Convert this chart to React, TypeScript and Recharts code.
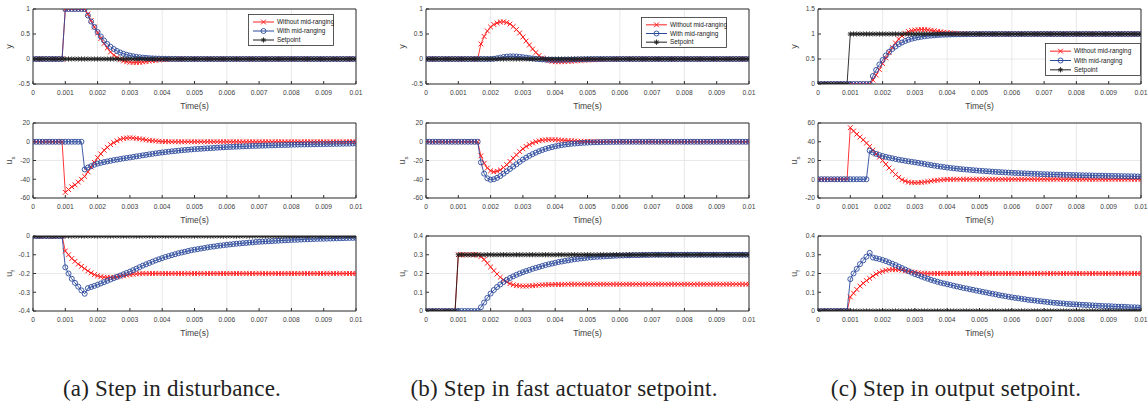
import React from "react";
import { LineChart, Line, XAxis, YAxis, CartesianGrid, Legend } from "recharts";

// ---- sampling grid (one marker every 0.1 ms) ----
const SAMPLE_STEP = 0.0001;
const time = Array.from({ length: 101 }, (_, i) => Number((i * SAMPLE_STEP).toFixed(4)));
const xTicks = [0, 0.001, 0.002, 0.003, 0.004, 0.005, 0.006, 0.007, 0.008, 0.009, 0.01];

const legendLabels = ["Without mid-ranging", "With mid-ranging", "Setpoint"];
const captions = ["(a) Step in disturbance.", "(b) Step in fast actuator setpoint.", "(c) Step in output setpoint."];

// ---- setpoints ----
const ZERO_SETPOINT = [
  0, 0, 0, 0, 0, 0, 0, 0, 0, 0,
  0, 0, 0, 0, 0, 0, 0, 0, 0, 0,
  0, 0, 0, 0, 0, 0, 0, 0, 0, 0,
  0, 0, 0, 0, 0, 0, 0, 0, 0, 0,
  0, 0, 0, 0, 0, 0, 0, 0, 0, 0,
  0, 0, 0, 0, 0, 0, 0, 0, 0, 0,
  0, 0, 0, 0, 0, 0, 0, 0, 0, 0,
  0, 0, 0, 0, 0, 0, 0, 0, 0, 0,
  0, 0, 0, 0, 0, 0, 0, 0, 0, 0,
  0, 0, 0, 0, 0, 0, 0, 0, 0, 0,
  0,
];
const B_UF_SET = [
  0, 0, 0, 0, 0, 0, 0, 0, 0, 0,
  0.3, 0.3, 0.3, 0.3, 0.3, 0.3, 0.3, 0.3, 0.3, 0.3,
  0.3, 0.3, 0.3, 0.3, 0.3, 0.3, 0.3, 0.3, 0.3, 0.3,
  0.3, 0.3, 0.3, 0.3, 0.3, 0.3, 0.3, 0.3, 0.3, 0.3,
  0.3, 0.3, 0.3, 0.3, 0.3, 0.3, 0.3, 0.3, 0.3, 0.3,
  0.3, 0.3, 0.3, 0.3, 0.3, 0.3, 0.3, 0.3, 0.3, 0.3,
  0.3, 0.3, 0.3, 0.3, 0.3, 0.3, 0.3, 0.3, 0.3, 0.3,
  0.3, 0.3, 0.3, 0.3, 0.3, 0.3, 0.3, 0.3, 0.3, 0.3,
  0.3, 0.3, 0.3, 0.3, 0.3, 0.3, 0.3, 0.3, 0.3, 0.3,
  0.3, 0.3, 0.3, 0.3, 0.3, 0.3, 0.3, 0.3, 0.3, 0.3,
  0.3,
];
const C_Y_SET = [
  0, 0, 0, 0, 0, 0, 0, 0, 0, 0,
  1, 1, 1, 1, 1, 1, 1, 1, 1, 1,
  1, 1, 1, 1, 1, 1, 1, 1, 1, 1,
  1, 1, 1, 1, 1, 1, 1, 1, 1, 1,
  1, 1, 1, 1, 1, 1, 1, 1, 1, 1,
  1, 1, 1, 1, 1, 1, 1, 1, 1, 1,
  1, 1, 1, 1, 1, 1, 1, 1, 1, 1,
  1, 1, 1, 1, 1, 1, 1, 1, 1, 1,
  1, 1, 1, 1, 1, 1, 1, 1, 1, 1,
  1, 1, 1, 1, 1, 1, 1, 1, 1, 1,
  1,
];

// ---- (a) step in disturbance ----
const A_Y_RED = [
  0, 0, 0, 0, 0, 0, 0, 0, 0, 0,
  1, 1, 1, 1, 1, 1, 1, 0.9, 0.77, 0.64,
  0.52, 0.41, 0.31, 0.22, 0.14, 0.08, 0.03, -0.01, -0.04, -0.055,
  -0.065, -0.07, -0.07, -0.067, -0.06, -0.052, -0.043, -0.034, -0.026, -0.019,
  -0.013, -0.008, -0.005, -0.003, -0.001, 0, 0, 0, 0, 0,
  0, 0, 0, 0, 0, 0, 0, 0, 0, 0,
  0, 0, 0, 0, 0, 0, 0, 0, 0, 0,
  0, 0, 0, 0, 0, 0, 0, 0, 0, 0,
  0, 0, 0, 0, 0, 0, 0, 0, 0, 0,
  0, 0, 0, 0, 0, 0, 0, 0, 0, 0,
  0,
];
const A_Y_BLUE = [
  0, 0, 0, 0, 0, 0, 0, 0, 0, 0,
  1, 1, 1, 1, 1, 1, 1, 0.87, 0.75, 0.64,
  0.54, 0.45, 0.37, 0.3, 0.245, 0.2, 0.16, 0.13, 0.105, 0.085,
  0.068, 0.055, 0.044, 0.035, 0.028, 0.022, 0.017, 0.013, 0.01, 0.008,
  0.006, 0.004, 0.003, 0.002, 0.001, 0, 0, 0, 0, 0,
  0, 0, 0, 0, 0, 0, 0, 0, 0, 0,
  0, 0, 0, 0, 0, 0, 0, 0, 0, 0,
  0, 0, 0, 0, 0, 0, 0, 0, 0, 0,
  0, 0, 0, 0, 0, 0, 0, 0, 0, 0,
  0, 0, 0, 0, 0, 0, 0, 0, 0, 0,
  0,
];
const A_US_RED = [
  0, 0, 0, 0, 0, 0, 0, 0, 0, 0,
  -54, -51, -48, -46, -43, -40, -37, -32, -27, -22,
  -17, -13, -9, -6, -3, -1, 1, 2.5, 3.5, 4,
  4.2, 4, 3.6, 3.1, 2.5, 2, 1.5, 1.1, 0.8, 0.5,
  0.3, 0.15, 0.05, 0, 0, 0, 0, 0, 0, 0,
  0, 0, 0, 0, 0, 0, 0, 0, 0, 0,
  0, 0, 0, 0, 0, 0, 0, 0, 0, 0,
  0, 0, 0, 0, 0, 0, 0, 0, 0, 0,
  0, 0, 0, 0, 0, 0, 0, 0, 0, 0,
  0, 0, 0, 0, 0, 0, 0, 0, 0, 0,
  0,
];
const A_US_BLUE = [
  0, 0, 0, 0, 0, 0, 0, 0, 0, 0,
  0, 0, 0, 0, 0, 0, -29.5, -27.5, -26, -24.5,
  -23.3, -22.5, -21.7, -21, -20.3, -19.6, -19, -18.4, -17.8, -17.3,
  -16.8, -16.2, -15.6, -15.1, -14.5, -14, -13.4, -12.9, -12.4, -11.9,
  -11.4, -11, -10.6, -10.2, -9.9, -9.5, -9.1, -8.8, -8.5, -8.2,
  -7.9, -7.7, -7.5, -7.2, -7, -6.8, -6.6, -6.3, -6.1, -5.9,
  -5.7, -5.55, -5.4, -5.25, -5.1, -4.95, -4.8, -4.65, -4.5, -4.4,
  -4.3, -4.2, -4.1, -3.95, -3.85, -3.75, -3.65, -3.55, -3.45, -3.35,
  -3.2, -3.1, -3, -2.95, -2.9, -2.8, -2.75, -2.7, -2.6, -2.55,
  -2.5, -2.45, -2.4, -2.3, -2.25, -2.2, -2.1, -2.05, -2, -1.9,
  -1.8,
];
const A_UF_RED = [
  0, 0, 0, 0, 0, 0, 0, 0, 0, 0,
  -0.08, -0.1, -0.12, -0.135, -0.15, -0.162, -0.174, -0.186, -0.197, -0.206,
  -0.212, -0.217, -0.22, -0.221, -0.221, -0.22, -0.218, -0.215, -0.212, -0.209,
  -0.206, -0.204, -0.202, -0.201, -0.2, -0.2, -0.2, -0.2, -0.2, -0.2,
  -0.2, -0.2, -0.2, -0.2, -0.2, -0.2, -0.2, -0.2, -0.2, -0.2,
  -0.2, -0.2, -0.2, -0.2, -0.2, -0.2, -0.2, -0.2, -0.2, -0.2,
  -0.2, -0.2, -0.2, -0.2, -0.2, -0.2, -0.2, -0.2, -0.2, -0.2,
  -0.2, -0.2, -0.2, -0.2, -0.2, -0.2, -0.2, -0.2, -0.2, -0.2,
  -0.2, -0.2, -0.2, -0.2, -0.2, -0.2, -0.2, -0.2, -0.2, -0.2,
  -0.2, -0.2, -0.2, -0.2, -0.2, -0.2, -0.2, -0.2, -0.2, -0.2,
  -0.2,
];
const A_UF_BLUE = [
  0, 0, 0, 0, 0, 0, 0, 0, 0, 0,
  -0.167, -0.2, -0.228, -0.25, -0.27, -0.29, -0.308, -0.278, -0.272, -0.266,
  -0.26, -0.253, -0.246, -0.239, -0.232, -0.225, -0.218, -0.211, -0.204, -0.197,
  -0.19, -0.182, -0.174, -0.166, -0.158, -0.151, -0.144, -0.137, -0.13, -0.124,
  -0.118, -0.112, -0.107, -0.102, -0.097, -0.092, -0.088, -0.084, -0.08, -0.076,
  -0.073, -0.07, -0.067, -0.064, -0.061, -0.058, -0.056, -0.053, -0.051, -0.049,
  -0.047, -0.045, -0.043, -0.041, -0.04, -0.038, -0.037, -0.035, -0.034, -0.032,
  -0.031, -0.03, -0.029, -0.028, -0.027, -0.026, -0.025, -0.024, -0.023, -0.022,
  -0.021, -0.0205, -0.02, -0.019, -0.018, -0.0175, -0.017, -0.016, -0.0155, -0.015,
  -0.0145, -0.014, -0.0135, -0.013, -0.0125, -0.012, -0.0115, -0.011, -0.0105, -0.01,
  -0.01,
];

// ---- (b) step in fast actuator setpoint ----
const B_Y_RED = [
  0, 0, 0, 0, 0, 0, 0, 0, 0, 0,
  0, 0, 0, 0, 0, 0, 0, 0.3, 0.45, 0.56,
  0.64, 0.69, 0.72, 0.74, 0.745, 0.73, 0.7, 0.65, 0.59, 0.52,
  0.44, 0.36, 0.28, 0.2, 0.13, 0.07, 0.02, -0.015, -0.035, -0.048,
  -0.055, -0.057, -0.056, -0.053, -0.049, -0.044, -0.039, -0.034, -0.029, -0.024,
  -0.02, -0.016, -0.013, -0.01, -0.008, -0.006, -0.004, -0.003, -0.002, -0.001,
  0, 0, 0, 0, 0, 0, 0, 0, 0, 0,
  0, 0, 0, 0, 0, 0, 0, 0, 0, 0,
  0, 0, 0, 0, 0, 0, 0, 0, 0, 0,
  0, 0, 0, 0, 0, 0, 0, 0, 0, 0,
  0,
];
const B_Y_BLUE = [
  0, 0, 0, 0, 0, 0, 0, 0, 0, 0,
  0, 0, 0, 0, 0, 0, 0, 0, 0, 0,
  0, 0.005, 0.015, 0.028, 0.04, 0.048, 0.052, 0.053, 0.05, 0.044,
  0.036, 0.027, 0.018, 0.01, 0.003, -0.003, -0.008, -0.012, -0.015, -0.017,
  -0.018, -0.018, -0.017, -0.015, -0.013, -0.011, -0.009, -0.007, -0.005, -0.004,
  -0.003, -0.002, -0.001, 0, 0, 0, 0, 0, 0, 0,
  0, 0, 0, 0, 0, 0, 0, 0, 0, 0,
  0, 0, 0, 0, 0, 0, 0, 0, 0, 0,
  0, 0, 0, 0, 0, 0, 0, 0, 0, 0,
  0, 0, 0, 0, 0, 0, 0, 0, 0, 0,
  0,
];
const B_US_RED = [
  0, 0, 0, 0, 0, 0, 0, 0, 0, 0,
  0, 0, 0, 0, 0, 0, 0, -15, -23, -28,
  -31, -32, -31.5, -30, -27.5, -24.5, -21, -17.5, -14, -10.5,
  -7.5, -5, -3, -1.3, 0, 1, 1.6, 2, 2.2, 2.2,
  2.1, 1.9, 1.7, 1.4, 1.2, 1, 0.8, 0.6, 0.45, 0.35,
  0.25, 0.15, 0.1, 0.05, 0, 0, 0, 0, 0, 0,
  0, 0, 0, 0, 0, 0, 0, 0, 0, 0,
  0, 0, 0, 0, 0, 0, 0, 0, 0, 0,
  0, 0, 0, 0, 0, 0, 0, 0, 0, 0,
  0, 0, 0, 0, 0, 0, 0, 0, 0, 0,
  0,
];
const B_US_BLUE = [
  0, 0, 0, 0, 0, 0, 0, 0, 0, 0,
  0, 0, 0, 0, 0, 0, 0, -22, -34, -39,
  -40.5, -40, -38.5, -36.5, -34, -31.5, -29, -26.5, -24, -21.5,
  -19, -17, -15, -13.2, -11.6, -10.1, -8.8, -7.6, -6.6, -5.7,
  -4.9, -4.2, -3.6, -3.1, -2.6, -2.2, -1.9, -1.6, -1.3, -1.1,
  -0.9, -0.75, -0.6, -0.5, -0.4, -0.32, -0.25, -0.2, -0.15, -0.1,
  -0.08, -0.05, -0.03, -0.02, -0.01, 0, 0, 0, 0, 0,
  0, 0, 0, 0, 0, 0, 0, 0, 0, 0,
  0, 0, 0, 0, 0, 0, 0, 0, 0, 0,
  0, 0, 0, 0, 0, 0, 0, 0, 0, 0,
  0,
];
const B_UF_RED = [
  0, 0, 0, 0, 0, 0, 0, 0, 0, 0,
  0.3, 0.3, 0.3, 0.3, 0.3, 0.3, 0.3, 0.29, 0.275, 0.255,
  0.235, 0.215, 0.197, 0.18, 0.166, 0.155, 0.146, 0.14, 0.136, 0.134,
  0.133, 0.133, 0.134, 0.135, 0.137, 0.138, 0.139, 0.14, 0.141, 0.141,
  0.142, 0.142, 0.142, 0.143, 0.143, 0.143, 0.143, 0.143, 0.143, 0.143,
  0.143, 0.143, 0.143, 0.143, 0.143, 0.143, 0.143, 0.143, 0.143, 0.143,
  0.143, 0.143, 0.143, 0.143, 0.143, 0.143, 0.143, 0.143, 0.143, 0.143,
  0.143, 0.143, 0.143, 0.143, 0.143, 0.143, 0.143, 0.143, 0.143, 0.143,
  0.143, 0.143, 0.143, 0.143, 0.143, 0.143, 0.143, 0.143, 0.143, 0.143,
  0.143, 0.143, 0.143, 0.143, 0.143, 0.143, 0.143, 0.143, 0.143, 0.143,
  0.143,
];
const B_UF_BLUE = [
  0, 0, 0, 0, 0, 0, 0, 0, 0, 0,
  0, 0, 0, 0, 0, 0, 0, 0.02, 0.045, 0.07,
  0.093, 0.112, 0.128, 0.142, 0.155, 0.166, 0.176, 0.185, 0.193, 0.2,
  0.207, 0.213, 0.219, 0.225, 0.23, 0.235, 0.24, 0.245, 0.249, 0.253,
  0.257, 0.261, 0.264, 0.267, 0.27, 0.273, 0.276, 0.278, 0.28, 0.282,
  0.284, 0.286, 0.288, 0.289, 0.29, 0.291, 0.292, 0.293, 0.294, 0.295,
  0.296, 0.296, 0.297, 0.297, 0.298, 0.298, 0.298, 0.299, 0.299, 0.299,
  0.3, 0.3, 0.3, 0.3, 0.3, 0.3, 0.3, 0.3, 0.3, 0.3,
  0.3, 0.3, 0.3, 0.3, 0.3, 0.3, 0.3, 0.3, 0.3, 0.3,
  0.3, 0.3, 0.3, 0.3, 0.3, 0.3, 0.3, 0.3, 0.3, 0.3,
  0.3,
];

// ---- (c) step in output setpoint ----
const C_Y_RED = [
  0, 0, 0, 0, 0, 0, 0, 0, 0, 0,
  0, 0, 0, 0, 0, 0, 0, 0.08, 0.18, 0.29,
  0.41, 0.52, 0.63, 0.73, 0.82, 0.9, 0.96, 1.01, 1.05, 1.07,
  1.08, 1.085, 1.09, 1.088, 1.083, 1.075, 1.065, 1.055, 1.045, 1.036,
  1.028, 1.021, 1.015, 1.01, 1.006, 1.003, 1.001, 1, 1, 1,
  1, 1, 1, 1, 1, 1, 1, 1, 1, 1,
  1, 1, 1, 1, 1, 1, 1, 1, 1, 1,
  1, 1, 1, 1, 1, 1, 1, 1, 1, 1,
  1, 1, 1, 1, 1, 1, 1, 1, 1, 1,
  1, 1, 1, 1, 1, 1, 1, 1, 1, 1,
  1,
];
const C_Y_BLUE = [
  0, 0, 0, 0, 0, 0, 0, 0, 0, 0,
  0, 0, 0, 0, 0, 0, 0, 0.16, 0.28, 0.39,
  0.48, 0.57, 0.64, 0.7, 0.75, 0.795, 0.83, 0.86, 0.885, 0.905,
  0.92, 0.933, 0.944, 0.953, 0.961, 0.968, 0.973, 0.978, 0.982, 0.985,
  0.988, 0.99, 0.992, 0.994, 0.995, 0.996, 0.997, 0.998, 0.998, 0.999,
  1, 1, 1, 1, 1, 1, 1, 1, 1, 1,
  1, 1, 1, 1, 1, 1, 1, 1, 1, 1,
  1, 1, 1, 1, 1, 1, 1, 1, 1, 1,
  1, 1, 1, 1, 1, 1, 1, 1, 1, 1,
  1, 1, 1, 1, 1, 1, 1, 1, 1, 1,
  1,
];
const C_US_RED = [
  0, 0, 0, 0, 0, 0, 0, 0, 0, 0,
  55, 51.5, 48, 45, 42, 38.5, 35, 31, 27, 23.5,
  20, 16, 12, 8.5, 5, 2, -0.5, -2, -3, -3.5,
  -3.7, -3.6, -3.3, -2.9, -2.4, -1.9, -1.4, -1, -0.7, -0.4,
  -0.2, -0.1, 0, 0, 0, 0, 0, 0, 0, 0,
  0, 0, 0, 0, 0, 0, 0, 0, 0, 0,
  0, 0, 0, 0, 0, 0, 0, 0, 0, 0,
  0, 0, 0, 0, 0, 0, 0, 0, 0, 0,
  0, 0, 0, 0, 0, 0, 0, 0, 0, 0,
  0, 0, 0, 0, 0, 0, 0, 0, 0, 0,
  0,
];
const C_US_BLUE = [
  0, 0, 0, 0, 0, 0, 0, 0, 0, 0,
  0, 0, 0, 0, 0, 0, 30.5, 28.5, 27, 25.8,
  24.8, 23.9, 23.1, 22.3, 21.6, 20.9, 20.3, 19.7, 19.1, 18.6,
  18.1, 17.5, 16.9, 16.3, 15.7, 15.1, 14.5, 14, 13.5, 13,
  12.5, 12.1, 11.7, 11.3, 10.9, 10.6, 10.3, 10, 9.7, 9.4,
  9.1, 8.9, 8.6, 8.4, 8.1, 7.9, 7.7, 7.5, 7.3, 7.1,
  6.9, 6.7, 6.55, 6.4, 6.25, 6.1, 5.95, 5.8, 5.65, 5.5,
  5.4, 5.3, 5.2, 5.1, 5, 4.9, 4.8, 4.7, 4.6, 4.5,
  4.4, 4.3, 4.2, 4.15, 4.1, 4, 3.9, 3.85, 3.8, 3.7,
  3.6, 3.55, 3.5, 3.4, 3.35, 3.3, 3.2, 3.15, 3.1, 3,
  2.9,
];
const C_UF_RED = [
  0, 0, 0, 0, 0, 0, 0, 0, 0, 0,
  0.075, 0.095, 0.115, 0.133, 0.148, 0.162, 0.174, 0.186, 0.197, 0.206,
  0.212, 0.217, 0.22, 0.221, 0.221, 0.22, 0.218, 0.215, 0.212, 0.209,
  0.206, 0.204, 0.202, 0.201, 0.2, 0.2, 0.2, 0.2, 0.2, 0.2,
  0.2, 0.2, 0.2, 0.2, 0.2, 0.2, 0.2, 0.2, 0.2, 0.2,
  0.2, 0.2, 0.2, 0.2, 0.2, 0.2, 0.2, 0.2, 0.2, 0.2,
  0.2, 0.2, 0.2, 0.2, 0.2, 0.2, 0.2, 0.2, 0.2, 0.2,
  0.2, 0.2, 0.2, 0.2, 0.2, 0.2, 0.2, 0.2, 0.2, 0.2,
  0.2, 0.2, 0.2, 0.2, 0.2, 0.2, 0.2, 0.2, 0.2, 0.2,
  0.2, 0.2, 0.2, 0.2, 0.2, 0.2, 0.2, 0.2, 0.2, 0.2,
  0.2,
];
const C_UF_BLUE = [
  0, 0, 0, 0, 0, 0, 0, 0, 0, 0,
  0.17, 0.2, 0.225, 0.25, 0.27, 0.29, 0.31, 0.285, 0.281, 0.277,
  0.272, 0.266, 0.259, 0.252, 0.245, 0.237, 0.229, 0.221, 0.213, 0.205,
  0.197, 0.191, 0.184, 0.178, 0.172, 0.166, 0.161, 0.156, 0.151, 0.147,
  0.143, 0.139, 0.135, 0.131, 0.127, 0.123, 0.12, 0.116, 0.113, 0.109,
  0.106, 0.102, 0.099, 0.095, 0.092, 0.089, 0.085, 0.082, 0.079, 0.076,
  0.073, 0.07, 0.068, 0.065, 0.063, 0.06, 0.058, 0.056, 0.054, 0.052,
  0.05, 0.048, 0.046, 0.044, 0.043, 0.041, 0.04, 0.038, 0.037, 0.036,
  0.035, 0.034, 0.033, 0.032, 0.031, 0.03, 0.029, 0.028, 0.027, 0.026,
  0.026, 0.025, 0.024, 0.023, 0.023, 0.022, 0.021, 0.02, 0.02, 0.019,
  0.018,
];

// ---- styling ----
const RED = "#ff1f1f";
const BLUE = "#2b4a9c";
const BLACK = "#1e1e1e";
const AXIS = "#303030";
const GRID = "#e3e3e3";
const SANS = "'Liberation Sans', Arial, sans-serif";
const SERIF = "'Times New Roman', 'Liberation Serif', Times, serif";
const TICK = { fontSize: 6.7, fill: "#404040", fontFamily: SANS };

const Y_W = 34; // left axis width
const PLOT_W = 323;
const PLOT_H = 75;
const X_H = 34; // bottom axis height
const TOP_PAD = 5;
const RIGHT_PAD = 7;

// ---- markers (MATLAB style x / o / *) ----
function XMark({ cx, cy, color = RED }: any) {
  if (cx == null || cy == null) return null;
  const s = 2.4;
  return (
    <path
      d={`M${cx - s},${cy - s}L${cx + s},${cy + s}M${cx - s},${cy + s}L${cx + s},${cy - s}`}
      stroke={color}
      strokeWidth={1}
      fill="none"
    />
  );
}
function OMark({ cx, cy }: any) {
  if (cx == null || cy == null) return null;
  return <circle cx={cx} cy={cy} r={2.5} stroke={BLUE} strokeWidth={0.9} fill="none" />;
}
function StarMark({ cx, cy }: any) {
  if (cx == null || cy == null) return null;
  const s = 2.6;
  const d = 1.85;
  return (
    <path
      d={`M${cx - s},${cy}L${cx + s},${cy}M${cx},${cy - s}L${cx},${cy + s}M${cx - d},${cy - d}L${cx + d},${cy + d}M${cx - d},${cy + d}L${cx + d},${cy - d}`}
      stroke={BLACK}
      strokeWidth={0.9}
      fill="none"
    />
  );
}

const xDot = (p: any) => <XMark key={`x${p.index}`} cx={p.cx} cy={p.cy} />;
const oDot = (p: any) => <OMark key={`o${p.index}`} cx={p.cx} cy={p.cy} />;
const sDot = (p: any) => <StarMark key={`s${p.index}`} cx={p.cx} cy={p.cy} />;

// rotated axis title, MATLAB style u_s / u_f
function YTitle({ viewBox, main, sub }: any) {
  const cx = (viewBox?.x ?? 0) + 13;
  const cy = (viewBox?.y ?? 0) + (viewBox?.height ?? 0) / 2;
  return (
    <text
      x={cx}
      y={cy}
      transform={`rotate(-90, ${cx}, ${cy})`}
      textAnchor="middle"
      fontSize={9}
      fontFamily={SANS}
      fill="#404040"
    >
      {main}
      {sub ? (
        <tspan dy={2.5} fontSize={6}>
          {sub}
        </tspan>
      ) : null}
    </text>
  );
}

function LegendBox({ w, h }: { w: number; h: number }) {
  const rows = [
    { label: legendLabels[0], color: RED, Mark: XMark },
    { label: legendLabels[1], color: BLUE, Mark: OMark },
    { label: legendLabels[2], color: BLACK, Mark: StarMark },
  ];
  const gap = (h - 5) / 3;
  return (
    <svg width={w} height={h} style={{ display: "block" }}>
      <rect x={0.5} y={0.5} width={w - 1} height={h - 1} fill="#fff" stroke={AXIS} strokeWidth={0.8} />
      {rows.map((r, k) => {
        const y = 3 + gap * (k + 0.5) + 0.5;
        return (
          <g key={k}>
            <line x1={5} x2={26} y1={y} y2={y} stroke={r.color} strokeWidth={1} />
            <r.Mark cx={15.5} cy={y} />
            <text x={29} y={y} dy="0.35em" fontSize={6.4} fontFamily={SANS} fill="#202020">
              {r.label}
            </text>
          </g>
        );
      })}
    </svg>
  );
}

type PanelProps = {
  left: number;
  top: number;
  red: number[];
  blue: number[];
  setpoint?: number[];
  yDomain: [number, number];
  yTicks: number[];
  main: string;
  sub?: string;
  legend?: { x: number; y: number; w: number; h: number };
};

function Panel({ left, top, red, blue, setpoint, yDomain, yTicks, main, sub, legend }: PanelProps) {
  const rows = time.map((t, i) => ({ t, r: red[i], b: blue[i], s: setpoint ? setpoint[i] : null }));
  const chartLeft = left - Y_W;
  const chartTop = top - TOP_PAD;
  return (
    <div style={{ position: "absolute", left: chartLeft, top: chartTop }}>
      <LineChart
        width={Y_W + PLOT_W + RIGHT_PAD}
        height={TOP_PAD + PLOT_H + X_H}
        data={rows}
        margin={{ top: TOP_PAD - 1, right: RIGHT_PAD - 1, bottom: 0, left: 0 }}
      >
        <CartesianGrid stroke={GRID} strokeWidth={0.8} />
        <Line dataKey="r" stroke={RED} strokeWidth={0.9} dot={xDot} activeDot={false} isAnimationActive={false} />
        <Line dataKey="b" stroke={BLUE} strokeWidth={0.9} dot={oDot} activeDot={false} isAnimationActive={false} />
        {setpoint ? (
          <Line dataKey="s" stroke={BLACK} strokeWidth={0.9} dot={sDot} activeDot={false} isAnimationActive={false} />
        ) : null}
        <XAxis
          dataKey="t"
          type="number"
          domain={[0, 0.01]}
          ticks={xTicks}
          allowDataOverflow
          height={X_H}
          tick={TICK}
          tickSize={-3}
          tickMargin={9}
          stroke={AXIS}
          label={{ value: "Time(s)", position: "insideBottom", offset: 9, fontSize: 8.5, fill: "#404040", fontFamily: SANS }}
        />
        <XAxis
          xAxisId="top"
          orientation="top"
          dataKey="t"
          type="number"
          domain={[0, 0.01]}
          ticks={xTicks}
          allowDataOverflow
          height={1}
          tick={false}
          tickSize={-3}
          stroke={AXIS}
        />
        <YAxis
          type="number"
          domain={yDomain}
          ticks={yTicks}
          allowDataOverflow
          width={Y_W}
          tick={TICK}
          tickSize={-3}
          tickMargin={6}
          stroke={AXIS}
          label={<YTitle main={main} sub={sub} />}
        />
        <YAxis
          yAxisId="r"
          orientation="right"
          type="number"
          domain={yDomain}
          ticks={yTicks}
          allowDataOverflow
          width={1}
          tick={false}
          tickSize={-3}
          stroke={AXIS}
        />
        {legend ? (
          <Legend
            layout="vertical"
            align="center"
            verticalAlign="middle"
            content={() => <LegendBox w={legend.w} h={legend.h} />}
            wrapperStyle={{ left: legend.x - chartLeft, top: legend.y - chartTop, width: legend.w, height: legend.h }}
          />
        ) : null}
      </LineChart>
    </div>
  );
}

const COL_LEFT = [33, 426, 818];
const ROW_TOP = [9, 123, 236];
const CAPTION_X = [172, 564, 956];

export default function App() {
  return (
    <div style={{ position: "absolute", left: 0, top: 0, width: 1148, height: 405, background: "#fff", overflow: "hidden" }}>
      {/* (a) */}
      <Panel left={COL_LEFT[0]} top={ROW_TOP[0]} red={A_Y_RED} blue={A_Y_BLUE} setpoint={ZERO_SETPOINT}
        yDomain={[-0.5, 1]} yTicks={[-0.5, 0, 0.5, 1]} main="y" legend={{ x: 248, y: 14, w: 86, h: 32 }} />
      <Panel left={COL_LEFT[0]} top={ROW_TOP[1]} red={A_US_RED} blue={A_US_BLUE}
        yDomain={[-60, 20]} yTicks={[-60, -40, -20, 0, 20]} main="u" sub="s" />
      <Panel left={COL_LEFT[0]} top={ROW_TOP[2]} red={A_UF_RED} blue={A_UF_BLUE} setpoint={ZERO_SETPOINT}
        yDomain={[-0.4, 0]} yTicks={[-0.4, -0.3, -0.2, -0.1, 0]} main="u" sub="f" />
      {/* (b) */}
      <Panel left={COL_LEFT[1]} top={ROW_TOP[0]} red={B_Y_RED} blue={B_Y_BLUE} setpoint={ZERO_SETPOINT}
        yDomain={[-0.5, 1]} yTicks={[-0.5, 0, 0.5, 1]} main="y" legend={{ x: 641, y: 17, w: 86, h: 31 }} />
      <Panel left={COL_LEFT[1]} top={ROW_TOP[1]} red={B_US_RED} blue={B_US_BLUE}
        yDomain={[-60, 20]} yTicks={[-60, -40, -20, 0, 20]} main="u" sub="s" />
      <Panel left={COL_LEFT[1]} top={ROW_TOP[2]} red={B_UF_RED} blue={B_UF_BLUE} setpoint={B_UF_SET}
        yDomain={[0, 0.4]} yTicks={[0, 0.1, 0.2, 0.3, 0.4]} main="u" sub="f" />
      {/* (c) */}
      <Panel left={COL_LEFT[2]} top={ROW_TOP[0]} red={C_Y_RED} blue={C_Y_BLUE} setpoint={C_Y_SET}
        yDomain={[0, 1.5]} yTicks={[0, 0.5, 1, 1.5]} main="y" legend={{ x: 1045, y: 43, w: 96, h: 33 }} />
      <Panel left={COL_LEFT[2]} top={ROW_TOP[1]} red={C_US_RED} blue={C_US_BLUE}
        yDomain={[-20, 60]} yTicks={[-20, 0, 20, 40, 60]} main="u" sub="s" />
      <Panel left={COL_LEFT[2]} top={ROW_TOP[2]} red={C_UF_RED} blue={C_UF_BLUE} setpoint={ZERO_SETPOINT}
        yDomain={[0, 0.4]} yTicks={[0, 0.1, 0.2, 0.3, 0.4]} main="u" sub="f" />

      {captions.map((c, i) => (
        <div
          key={c}
          style={{
            position: "absolute",
            left: CAPTION_X[i] - 200,
            width: 400,
            top: 375,
            textAlign: "center",
            fontFamily: SERIF,
            fontSize: 23,
            letterSpacing: 0.2,
            lineHeight: "27px",
            color: "#222",
          }}
        >
          {c}
        </div>
      ))}
    </div>
  );
}
